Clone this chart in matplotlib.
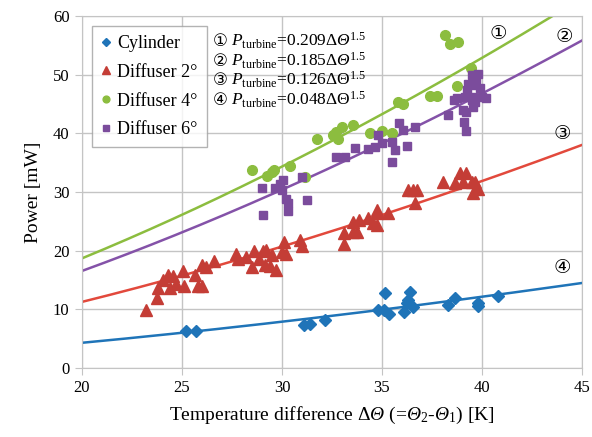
import matplotlib
matplotlib.use('Agg')
import matplotlib.pyplot as plt
import numpy as np

plt.rcParams['font.family'] = ['Liberation Serif', 'DejaVu Sans']
plt.rcParams['mathtext.fontset'] = 'custom'
plt.rcParams['mathtext.rm'] = 'Liberation Serif'
plt.rcParams['mathtext.it'] = 'Liberation Serif:italic'
# italic font slot for the greek capital theta (mathit forces it upright)
plt.rcParams['mathtext.sf'] = 'Liberation Serif:italic'

# measured points
cyl_x = [25.2, 25.7, 31.1, 31.4, 32.15, 34.8, 35.1, 35.15, 35.35, 36.1, 36.25, 36.3, 36.4,
         36.55, 38.3, 38.65, 39.8, 39.8, 40.8]
cyl_y = [6.3, 6.3, 7.3, 7.5, 8.2, 9.8, 9.9, 12.8, 9.2, 9.6, 11.1, 11.6, 12.9,
         10.4, 10.7, 11.9, 11.1, 10.6, 12.3]

d2_x = [23.2, 23.75, 23.8, 24.05, 24.3, 24.4, 24.55, 24.7, 25.1, 25.05, 25.65, 25.8, 26.0, 26.0,
        26.2, 26.6, 27.7, 27.8, 28.2, 28.5, 28.6, 28.85, 29.05, 29.2, 29.15, 29.4, 29.5, 29.7,
        30.0, 30.1, 30.2, 30.9, 31.0, 33.1, 33.1, 33.55, 33.55, 33.85, 33.75, 34.3, 34.55, 34.75,
        34.75, 34.75, 35.3, 36.3, 36.55, 36.75, 36.65, 38.05, 38.65, 38.9, 39.2, 39.05, 39.5,
        39.65, 39.55, 39.8]
d2_y = [9.9, 11.9, 13.6, 15.0, 15.9, 13.6, 15.6, 14.3, 13.9, 16.6, 15.9, 14.0, 14.0, 17.6,
        17.2, 18.2, 19.4, 18.5, 19.0, 17.2, 20.0, 18.5, 20.0, 20.1, 17.6, 17.4, 19.3, 16.7,
        19.7, 21.5, 19.5, 21.9, 20.8, 21.1, 23.0, 23.2, 24.9, 25.2, 23.2, 25.5, 24.7, 27.0,
        26.4, 24.4, 26.4, 30.3, 30.4, 30.3, 28.1, 31.8, 31.5, 33.2, 33.2, 31.8, 31.8,
        31.8, 29.8, 30.6]

d4_x = [28.5, 29.27, 29.5, 29.6, 30.4, 31.15, 31.77, 32.57, 32.7, 32.98, 32.8, 33.57, 34.4,
        35.0, 35.5, 35.8, 36.07, 37.4, 37.73, 38.15, 38.4, 38.8, 38.73, 39.43, 39.7]
d4_y = [33.7, 32.7, 33.5, 33.7, 34.4, 32.5, 39.0, 39.7, 40.3, 41.1, 39.1, 41.4, 40.1,
        40.4, 40.0, 45.4, 45.1, 46.4, 46.4, 56.8, 55.2, 55.6, 48.1, 51.1, 49.9]

d6_x = [28.98, 29.03, 29.65, 29.9, 30.03, 29.98, 30.2, 30.3, 30.3, 30.98, 31.27, 32.7, 33.15,
        33.65, 34.3, 34.65, 34.8, 34.98, 35.5, 35.65, 35.5, 35.87, 36.07, 36.23, 36.65, 38.3,
        38.6, 38.73, 39.07, 39.2, 39.1, 39.2, 39.23, 39.3, 39.5, 39.57, 39.65, 39.8, 39.9,
        39.98, 40.2, 39.57, 39.5, 39.15, 39.7, 39.57]
d6_y = [30.7, 26.1, 30.7, 31.4, 32.1, 30.4, 28.9, 28.2, 26.8, 32.5, 28.6, 35.9, 36.0,
        37.6, 37.3, 37.7, 39.7, 38.3, 35.2, 37.2, 38.6, 41.7, 40.6, 37.9, 41.1, 43.2,
        45.7, 46.0, 44.0, 43.7, 42.0, 40.4, 47.4, 48.5, 49.9, 46.2, 45.4, 50.2, 47.7,
        46.2, 46.1, 48.2, 45.7, 46.2, 49.1, 44.5]

# fit coefficients P = c * dT^1.5
coef = [0.209, 0.185, 0.126, 0.048]
fit_labels = ['①', '②', '③', '④']

c_blue = '#1f74b8'
c_red_m = '#c43d36'
c_red_l = '#e2493c'
c_green = '#8cbd3f'
c_purple_m = '#7b4c9c'
c_purple_l = '#8452a8'

fig = plt.figure(figsize=(5.92, 4.37), dpi=100)
ax = fig.add_axes([0.1385, 0.158, 0.8445, 0.805])

xx = np.linspace(20, 45, 200)
line_colors = [c_green, c_purple_l, c_red_l, c_blue]
for c, col in zip(coef, line_colors):
    ax.plot(xx, c * xx ** 1.5, color=col, lw=1.8, zorder=2)

ax.plot(cyl_x, cyl_y, 'D', color=c_blue, ms=6.5, ls='none', label='Cylinder', zorder=3)
ax.plot(d2_x, d2_y, '^', color=c_red_m, ms=8, ls='none', label='Diffuser 2°', zorder=3)
ax.plot(d4_x, d4_y, 'o', color=c_green, ms=7, ls='none', label='Diffuser 4°', zorder=3)
ax.plot(d6_x, d6_y, 's', color=c_purple_m, ms=6, ls='none', label='Diffuser 6°', zorder=3)

ax.set_xlim(20, 45)
ax.set_ylim(0, 60)
ax.set_xticks([20, 25, 30, 35, 40, 45])
ax.set_yticks([0, 10, 20, 30, 40, 50, 60])
ax.grid(True, color='#c4c4c4', lw=1)
ax.set_axisbelow(True)
for s in ax.spines.values():
    s.set_color('#c4c4c4')
ax.tick_params(direction='out', length=5, color='#c4c4c4', labelsize=12, pad=4)

ax.set_xlabel(r'Temperature difference Δ$\mathsf{Θ}$ (=$\mathsf{Θ}_2$-$\mathsf{Θ}_1$) [K]',
              fontsize=14, labelpad=6)
ax.set_ylabel('Power [mW]', fontsize=14, labelpad=8)

leg = ax.legend(loc='upper left', bbox_to_anchor=(0.02, 0.972), borderaxespad=0,
                fancybox=False, edgecolor='#a0a0a0', fontsize=13, handlelength=0.6,
                handletextpad=0.3, labelspacing=0.65, borderpad=0.5, markerscale=0.7)
leg.get_frame().set_linewidth(1)

formulas = [r'$P_{\mathrm{turbine}}$=0.209Δ$\mathsf{Θ}^{1.5}$',
            r'$P_{\mathrm{turbine}}$=0.185Δ$\mathsf{Θ}^{1.5}$',
            r'$P_{\mathrm{turbine}}$=0.126ΔΘ$^{1.5}$',
            r'$P_{\mathrm{turbine}}$=0.048ΔΘ$^{1.5}$']
for i, f in enumerate(formulas):
    yy = 0.955 - i * 0.056
    ax.text(0.262, yy, fit_labels[i], transform=ax.transAxes, fontsize=12,
            va='top', ha='left', family='DejaVu Sans')
    ax.text(0.298, yy + 0.004, f, transform=ax.transAxes, fontsize=12.5,
            va='top', ha='left')

label_pos = [(40.8, 57.0), (44.1, 56.6), (44.0, 40.0), (44.0, 17.1)]
for lab, (px, py) in zip(fit_labels, label_pos):
    ax.text(px, py, lab, fontsize=14, ha='center', va='center', family='DejaVu Sans')

fig.savefig('out.png', dpi=100)
